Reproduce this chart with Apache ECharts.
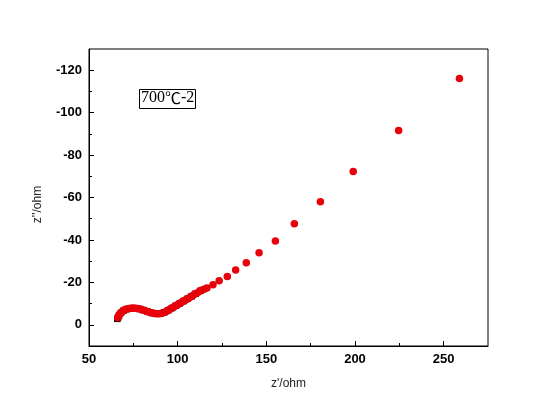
<!DOCTYPE html>
<html>
<head>
<meta charset="utf-8">
<script src="https://cdn.jsdelivr.net/npm/echarts@6/dist/echarts.min.js"></script>
<style>
html,body{margin:0;padding:0;background:#fff;}
#chart{width:536px;height:401px;}
</style>
</head>
<body>
<div id="chart"></div>
<script>
// Data: Z' (ohm) and Z'' (ohm)
var zReal = [66.3,66.6,67.0,67.5,68.1,68.8,69.6,70.5,71.5,72.6,73.7,74.9,76.1,77.3,78.5,79.7,80.9,82.1,83.3,84.5,85.7,86.9,88.1,89.3,90.4,91.5,92.6,93.6,94.6,95.6,96.6,97.6,98.6,99.6,100.6,101.6,102.6,103.6,104.6,105.7,106.8,107.9,109.1,110.4,111.8,113.3,114.9,116.5,119.9,123.4,128.0,132.7,138.7,145.9,155.1,165.8,180.5,199.0,224.6,258.9];
var zImag = [-3.3,-4.0,-4.6,-5.2,-5.8,-6.3,-6.8,-7.2,-7.5,-7.7,-7.8,-7.9,-7.8,-7.7,-7.5,-7.2,-6.9,-6.5,-6.1,-5.8,-5.5,-5.3,-5.2,-5.2,-5.3,-5.6,-5.9,-6.3,-6.8,-7.3,-7.8,-8.3,-8.8,-9.3,-9.8,-10.3,-10.8,-11.3,-11.8,-12.3,-12.9,-13.5,-14.1,-14.8,-15.5,-16.3,-16.8,-17.3,-18.9,-20.8,-22.8,-25.8,-29.3,-33.9,-39.5,-47.6,-58.0,-72.3,-91.6,-116.1];
// Black square series (underlying measurement)
var blackReal = [66.0,66.4,67.0,68.0,69.4,71.2,73.4,75.8,78.2,80.6,83.0,85.4,87.8,90.2,92.4,94.6,96.8,99.0,101.2,103.4,105.6,107.8,110.2,112.8];
var blackImag = [-2.8,-3.5,-4.5,-5.6,-6.6,-7.4,-7.8,-7.8,-7.5,-6.9,-6.2,-5.6,-5.2,-5.3,-5.9,-6.8,-7.9,-9.0,-10.1,-11.2,-12.3,-13.4,-14.7,-16.0];
var xTickLabels = [50,100,150,200,250];
var xMinorTicks = [75,125,175,225];
var yTickLabels = [-120,-100,-80,-60,-40,-20,0];
var yMinorTicks = [-110,-90,-70,-50,-30,-10];
var annotationParts = ['700', '℃', '-2'];

function pairs(a,b){var r=[];for(var i=0;i<a.length;i++){r.push([a[i],b[i]]);}return r;}

var chart = echarts.init(document.getElementById('chart'), null, {renderer:'canvas'});
var labelStyle = {color:'#000', fontFamily:'Liberation Sans, Arial, sans-serif', fontWeight:'bold', fontSize:13};
var option = {
  animation:false,
  backgroundColor:'#fff',
  grid:{left:89, top:49, right:48, bottom:55, show:true, borderColor:'#000', borderWidth:1, backgroundColor:'transparent'},
  xAxis:[{
    type:'value', min:50, max:275, position:'bottom',
    name:"z'/ohm", nameLocation:'middle', nameGap:32,
    nameTextStyle:{color:'#222', fontFamily:'Liberation Sans, Arial, sans-serif', fontSize:12},
    axisLine:{show:true, onZero:false, lineStyle:{color:'#000', width:1}},
    axisTick:{show:true, inside:true, length:5, lineStyle:{color:'#000'}, customValues:xTickLabels},
    axisLabel:Object.assign({margin:7, customValues:xTickLabels}, labelStyle),
    splitLine:{show:false}
  },{
    type:'value', min:50, max:275, position:'bottom',
    axisLine:{show:false, onZero:false},
    axisTick:{show:true, inside:true, length:3, lineStyle:{color:'#000'}, customValues:xMinorTicks},
    axisLabel:{show:false},
    splitLine:{show:false}
  }],
  yAxis:[{
    type:'value', min:-130, max:10, inverse:true, position:'left',
    name:"z''/ohm", nameLocation:'middle', nameGap:45,
    nameTextStyle:{color:'#222', fontFamily:'Liberation Sans, Arial, sans-serif', fontSize:12, padding:[0,0,0,-14]},
    axisLine:{show:true, onZero:false, lineStyle:{color:'#000', width:1}},
    axisTick:{show:true, inside:true, length:5, lineStyle:{color:'#000'}, customValues:yTickLabels},
    axisLabel:Object.assign({margin:7, customValues:yTickLabels}, labelStyle),
    splitLine:{show:false}
  },{
    type:'value', min:-130, max:10, inverse:true, position:'left',
    axisLine:{show:false, onZero:false},
    axisTick:{show:true, inside:true, length:3, lineStyle:{color:'#000'}, customValues:yMinorTicks},
    axisLabel:{show:false},
    splitLine:{show:false}
  }],
  series:[{
    type:'scatter', xAxisIndex:0, yAxisIndex:0,
    data:pairs(blackReal, blackImag),
    symbol:'rect', symbolSize:6.5,
    itemStyle:{color:'#000', opacity:1}
  },{
    type:'scatter', xAxisIndex:0, yAxisIndex:0,
    data:pairs(zReal, zImag),
    symbol:'circle', symbolSize:7.5,
    itemStyle:{color:'#e8000a', opacity:1}
  }],
  graphic:[{
    type:'rect', left:139, top:89,
    shape:{width:56, height:19},
    style:{fill:'#fff', stroke:'#000', lineWidth:1}
  },{
    type:'text', left:141, top:90,
    style:{
      text:'{a|' + annotationParts[0] + '}{b|' + annotationParts[1] + '}{a|' + annotationParts[2] + '}',
      rich:{
        a:{fill:'#000', fontFamily:'"Liberation Serif", serif', fontSize:16},
        b:{fill:'#000', fontFamily:'"Noto Sans CJK SC", sans-serif', fontSize:16, fontWeight:'normal'}
      }
    }
  }]
};
chart.setOption(option);
</script>
</body>
</html>
